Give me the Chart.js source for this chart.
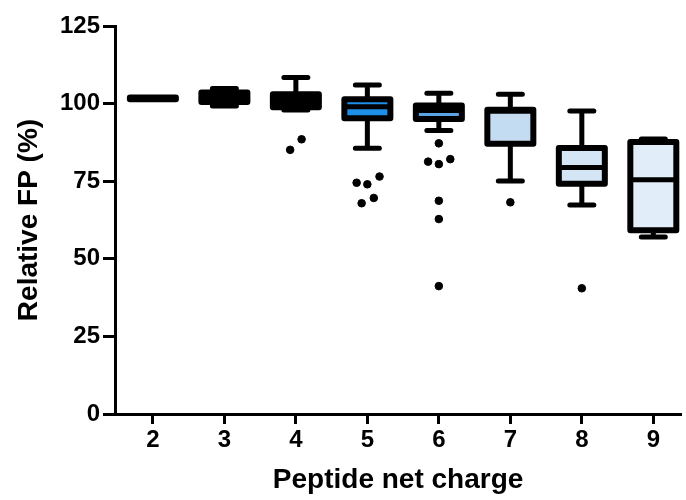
<!DOCTYPE html>
<html>
<head>
<meta charset="utf-8">
<script src="https://cdn.jsdelivr.net/npm/chart.js@4.4.1/dist/chart.umd.min.js"></script>
<style>
  html, body { margin: 0; padding: 0; background: #fff; overflow: hidden; }
  #wrap { width: 686px; height: 500px; }
</style>
</head>
<body>
<div id="wrap"><canvas id="chart"></canvas></div>
<script>
// net charge groups and their box-plot summaries (Relative FP, %)
const charges = [2, 3, 4, 5, 6, 7, 8, 9];
const whiskerLow = [101.7, 99.2, 97.9, 85.6, 91.3, 75.1, 67.3, 57.0];
const q1 = [101.4, 100.5, 98.8, 95.3, 95.0, 87.1, 74.2, 59.2];
const medians = [101.7, 102.0, 101.0, 99.0, 97.8, 97.5, 79.4, 75.5];
const q3 = [102.0, 103.6, 103.0, 101.4, 99.4, 98.0, 85.7, 87.6];
const whiskerHigh = [101.7, 104.9, 108.4, 106.0, 103.3, 103.0, 97.6, 88.6];

// outliers (x is the charge, slightly spread where dots sit side by side)
const outlierX = [3.92, 4.08, 4.85, 5.0, 5.17, 4.92, 5.09, 6.0, 5.85, 6.0, 6.16, 6.0, 6.0, 6.0, 7.0, 8.0];
const outlierY = [85.1, 88.5, 74.5, 74.0, 76.5, 67.9, 69.6, 87.2, 81.3, 80.5, 82.1, 68.7, 62.8, 41.2, 68.2, 40.5];

const yTicks = [0, 25, 50, 75, 100, 125];

const boxFills = ['#000000', '#000000', '#000000', '#1e8fe8', '#5aa4e6', '#c4dcf2', '#d4e6f6', '#e1edf9'];

const tickFont = { family: 'Liberation Sans, Arial, sans-serif', size: 24, weight: 'bold' };
const titleFont = { family: 'Liberation Sans, Arial, sans-serif', size: 28, weight: 'bold' };

// draws whiskers, caps, boxes and medians from the summary arrays
const boxPlotPlugin = {
  id: 'boxPlot',
  beforeDatasetsDraw(chart) {
    const { ctx, scales: { x, y } } = chart;
    const half = 23;
    const capHalf = 12;
    ctx.save();
    ctx.strokeStyle = '#000';
    charges.forEach((c, i) => {
      const px = x.getPixelForValue(c);
      const yLow = y.getPixelForValue(whiskerLow[i]);
      const yQ1 = y.getPixelForValue(q1[i]);
      const yMed = y.getPixelForValue(medians[i]);
      const yQ3 = y.getPixelForValue(q3[i]);
      const yHigh = y.getPixelForValue(whiskerHigh[i]);

      // whiskers
      ctx.lineWidth = 5;
      ctx.lineCap = 'butt';
      ctx.beginPath();
      ctx.moveTo(px, yQ1); ctx.lineTo(px, yLow);
      ctx.moveTo(px, yQ3); ctx.lineTo(px, yHigh);
      ctx.stroke();

      // caps
      ctx.lineCap = 'round';
      ctx.beginPath();
      ctx.moveTo(px - capHalf, yLow); ctx.lineTo(px + capHalf, yLow);
      ctx.moveTo(px - capHalf, yHigh); ctx.lineTo(px + capHalf, yHigh);
      ctx.stroke();

      // box
      ctx.lineWidth = 6;
      ctx.lineJoin = 'round';
      ctx.fillStyle = boxFills[i];
      ctx.beginPath();
      ctx.rect(px - half, yQ3, half * 2, yQ1 - yQ3);
      ctx.fill();
      ctx.stroke();

      // median
      ctx.lineWidth = 5;
      ctx.lineCap = 'butt';
      ctx.beginPath();
      ctx.moveTo(px - half, yMed); ctx.lineTo(px + half, yMed);
      ctx.stroke();
    });
    ctx.restore();
  }
};

new Chart(document.getElementById('chart'), {
  type: 'scatter',
  data: {
    datasets: [{
      label: 'Outliers',
      data: outlierX.map((v, i) => ({ x: v, y: outlierY[i] })),
      backgroundColor: '#000',
      borderColor: '#000',
      pointRadius: 3.8,
      pointHoverRadius: 3.8
    }]
  },
  options: {
    responsive: true,
    maintainAspectRatio: false,
    animation: false,
    layout: { padding: { top: 26, right: 0, bottom: 0, left: 0 } },
    plugins: { legend: { display: false }, tooltip: { enabled: false } },
    scales: {
      x: {
        type: 'linear',
        min: 1.47,
        max: 9.39,
        afterBuildTicks: (scale) => { scale.ticks = charges.map(v => ({ value: v })); },
        afterFit: (scale) => { scale.height = 86; },
        grid: { drawOnChartArea: false, color: '#000', tickLength: 10, tickWidth: 3 },
        border: { color: '#000', width: 3 },
        ticks: { color: '#000', font: tickFont, padding: 2 },
        title: { display: true, text: 'Peptide net charge', color: '#000', font: titleFont, padding: { top: 0, bottom: 3 } }
      },
      y: {
        min: 0,
        max: 125,
        afterBuildTicks: (scale) => { scale.ticks = yTicks.map(v => ({ value: v })); },
        afterFit: (scale) => { scale.width = 115; },
        grid: { drawOnChartArea: false, color: '#000', tickLength: 12, tickWidth: 3 },
        border: { color: '#000', width: 3 },
        ticks: { color: '#000', font: tickFont, padding: 3 },
        title: { display: true, text: 'Relative FP (%)', color: '#000', font: titleFont, padding: { top: 12, bottom: 0 } }
      }
    }
  },
  plugins: [boxPlotPlugin]
});
</script>
</body>
</html>
